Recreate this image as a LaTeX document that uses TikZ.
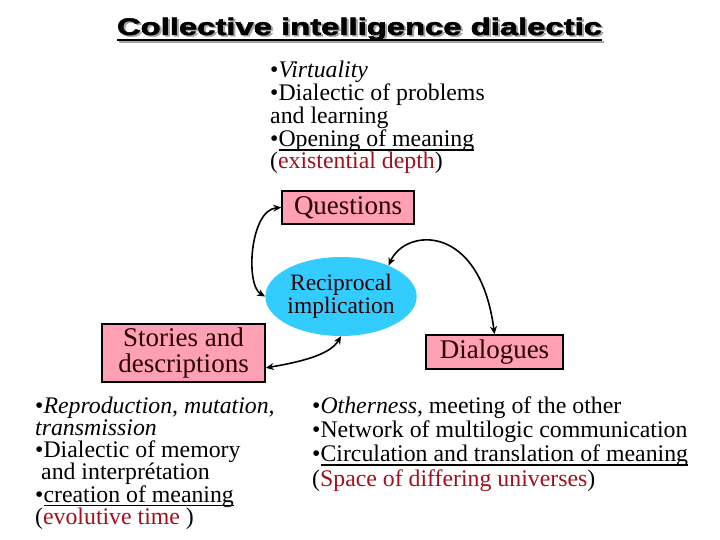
\documentclass[tikz,border=0pt]{standalone}
\usepackage{fontspec}
\setmainfont{Liberation Serif}
\newfontfamily\titlefont[BoldFeatures={FakeBold=2}]{Liberation Sans}
\usetikzlibrary{shapes.geometric,arrows.meta,calc}
\definecolor{boxpink}{RGB}{255,160,180}
\definecolor{ellblue}{RGB}{51,204,255}
\definecolor{darkred}{RGB}{160,16,32}
\definecolor{boxtext}{RGB}{40,0,0}
\definecolor{shadowgray}{RGB}{165,165,165}
\newsavebox{\ulbox}
\newcommand{\myul}[1]{\sbox{\ulbox}{#1}\rlap{\vrule height -2.4pt depth 4.2pt width \wd\ulbox}\usebox{\ulbox}}
\tikzset{
  pinkbox/.style={draw, line width=1.5pt, fill=boxpink, text=boxtext, inner sep=0pt,
    align=center, font=\fontsize{27}{26}\selectfont},
  recipbox/.style={ellipse, fill=ellblue, text=boxtext, inner sep=0pt,
    minimum width=144pt, minimum height=79pt, align=center, font=\fontsize{23.5}{20}\selectfont},
  textblock/.style={anchor=base west, align=left, inner sep=0pt},
  link/.style={line width=1.6pt, {Stealth[length=8pt,width=7pt]}-{Stealth[length=8pt,width=7pt]}},
  titletext/.style={anchor=base, inner sep=0pt}
}
\newcommand{\titlestr}{\resizebox{485pt}{\height}{\titlefont\bfseries\fontsize{24}{24}\selectfont Collective intelligence dialectic}}
\begin{document}
\begin{tikzpicture}[x=1pt,y=-1pt]
\useasboundingbox (0,0) rectangle (720,540);
% title
\node[titletext, text=shadowgray] (titleshadow) at (361.5,36.5) {\titlestr};
\node[titletext] (title) at (359.5,35) {\titlestr};
\draw[shadowgray, line width=2.4pt] ($(titleshadow.base west)+(0,5.5)$) -- ($(titleshadow.base east)+(0,5.5)$);
\draw[line width=2.4pt] ($(title.base west)+(0,5)$) -- ($(title.base east)+(0,5)$);
% nodes
\node[pinkbox, minimum width=132pt, minimum height=33pt] (questions) at (348,207.5) {Questions};
\node[recipbox] (recip) at (341,296.5) {Reciprocal\\implication};
\node[pinkbox, minimum width=163pt, minimum height=58pt] (stories) at (183.5,353) {Stories and\\descriptions};
\node[pinkbox, minimum width=137pt, minimum height=34pt] (dialogues) at (494.5,352) {Dialogues};
% text blocks (anchored at the baseline of their last line)
\node[textblock, font=\fontsize{23.8}{21}\selectfont] (qtext) at (270,169)
  {\textbullet\textit{Virtuality}\\
   \textbullet Dialectic of problems\\
   and learning\\
   \textbullet\myul{Opening of meaning}\\
   (\textcolor{darkred}{existential depth})};
\node[textblock, font=\fontsize{23.8}{21.8}\selectfont] (stext) at (35,524)
  {\textbullet\textit{Reproduction, mutation,}\\
   \textit{transmission}\\
   \textbullet Dialectic of memory\\
   \hspace*{6pt}and interpr\'etation\\
   \textbullet\myul{creation of meaning}\\
   (\textcolor{darkred}{evolutive time} )};
\node[textblock, font=\fontsize{23.8}{24.3}\selectfont] (dtext) at (312,486)
  {\textbullet\textit{Otherness}, meeting of the other\\
   \textbullet Network of multilogic communication\\
   \textbullet\myul{Circulation and translation of meaning}\\
   (\textcolor{darkred}{Space of differing universes})};
% connectors
\draw[link] (questions.west) .. controls (250,210) and (245,285) .. (recip.west);
\draw[link] (recip.33) .. controls (405,228) and (480,222) .. (dialogues.north);
\draw[link] (recip.south) .. controls (330,355) and (300,362) .. ($(stories.south east)!0.25!(stories.north east)$);
\end{tikzpicture}
\end{document}
